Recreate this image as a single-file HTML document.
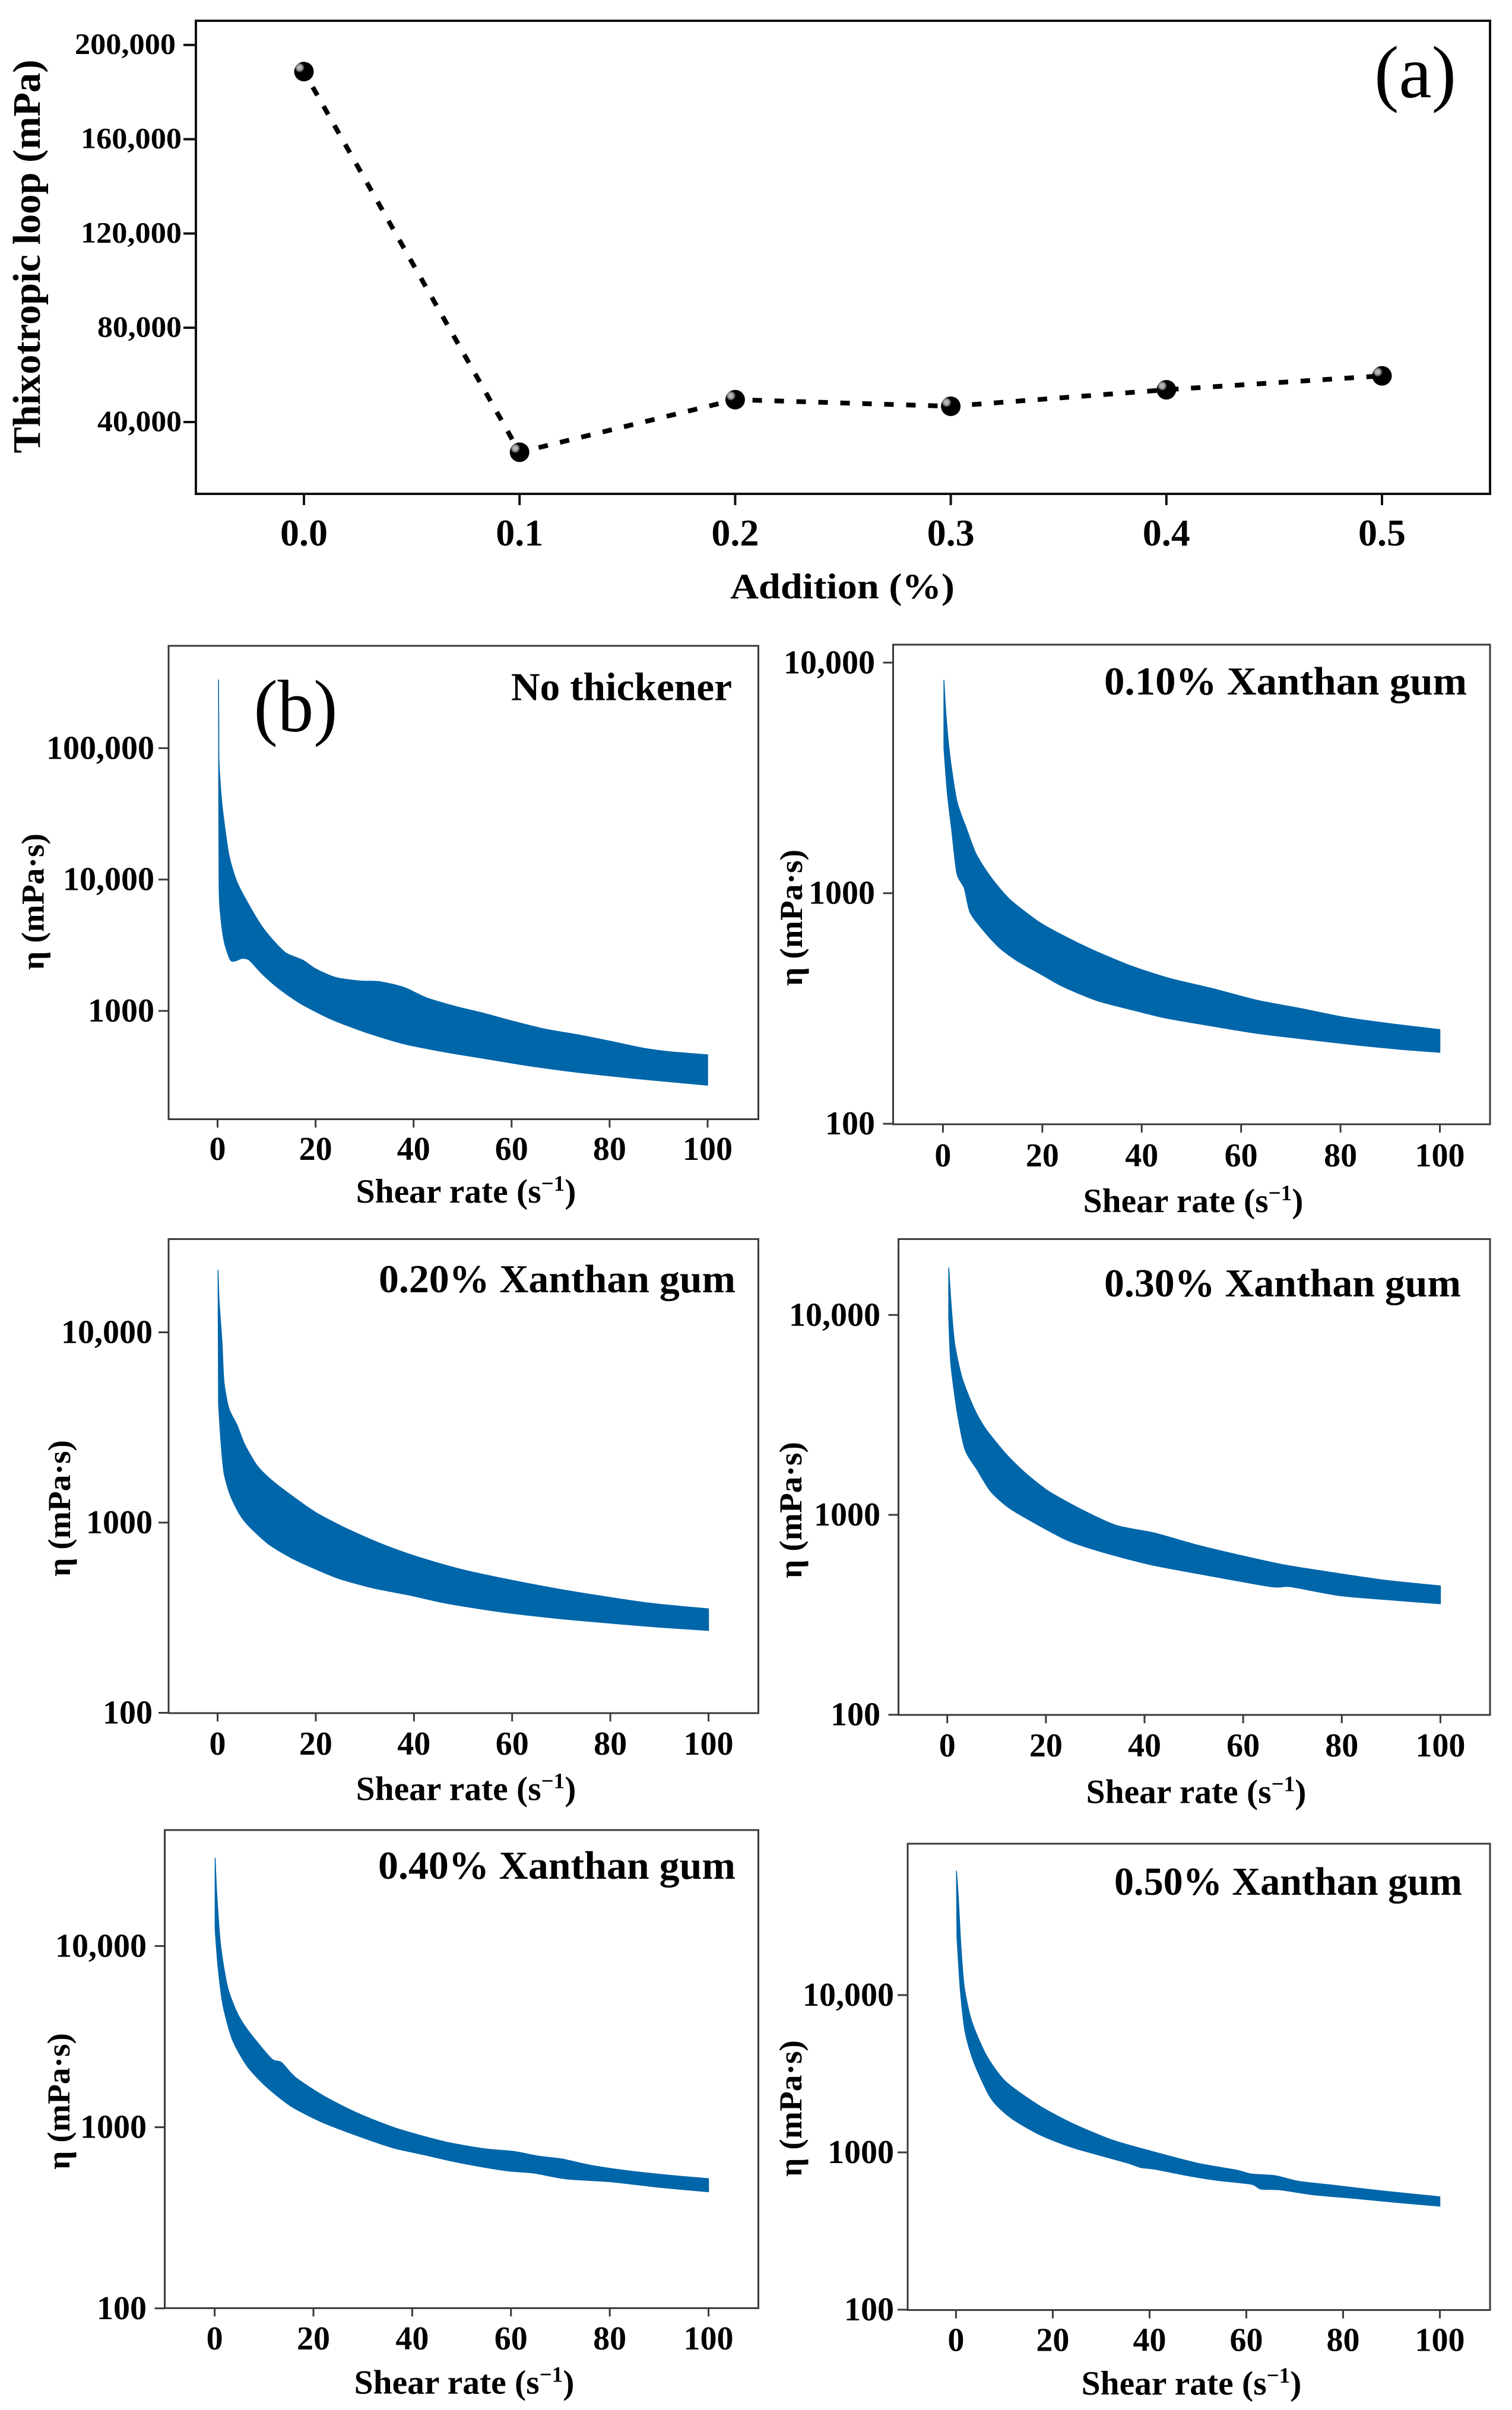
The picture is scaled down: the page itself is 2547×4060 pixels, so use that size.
<!DOCTYPE html>
<html lang="en">
<head>
<meta charset="utf-8">
<title>Thixotropic loop and viscosity curves</title>
<style>
html,body{margin:0;padding:0;background:#fff;}
svg{display:block;}
text{font-family:"Liberation Serif","DejaVu Serif",serif;fill:#000;}
.b{font-weight:bold;}
</style>
</head>
<body>
<svg id="figure" xmlns="http://www.w3.org/2000/svg" width="2547" height="4060" viewBox="0 0 2547 4060">
<defs>
<radialGradient id="ball" cx="0.28" cy="0.3" r="0.75">
<stop offset="0" stop-color="#c8c8c8"/>
<stop offset="0.2" stop-color="#999"/>
<stop offset="0.34" stop-color="#000"/>
<stop offset="1" stop-color="#000"/>
</radialGradient>
</defs>
<rect width="2547" height="4060" fill="#fff"/>
</svg>
<script>
// Panel (a) data
const aCategories = [0.0, 0.1, 0.2, 0.3, 0.4, 0.5];
const aCategoryLabels = ['0.0', '0.1', '0.2', '0.3', '0.4', '0.5'];
const aValues = [188700, 27200, 49500, 46700, 53700, 59600];
const aTicks = [40000, 80000, 120000, 160000, 200000];
const aTickLabels = ['40,000', '80,000', '120,000', '160,000', '200,000'];

// Shear-rate axis shared by panels (b)
const shearTicks = [0, 20, 40, 60, 80, 100];
const shearTickLabels = ['0', '20', '40', '60', '80', '100'];

// No thickener
const noneUpperRates = [0.2, 0.25, 0.3, 0.9, 2.3, 4, 6.5, 9, 11.5, 14, 17.4, 20, 24, 29, 33, 38, 42.6, 48.6, 54.5, 60.4, 67, 74, 80, 87, 92, 100];
const noneUpper = [331000, 135000, 76700, 37200, 15500, 9480, 6310, 4420, 3390, 2750, 2430, 2090, 1800, 1690, 1670, 1510, 1260, 1080, 955, 832, 724, 653, 589, 519, 490, 463];
const noneLowerRates = [0.2, 0.3, 0.7, 1.4, 2.6, 3.6, 5, 6.5, 9, 12.5, 17, 23, 30, 38, 46.6, 54.5, 64, 74, 84, 94, 100];
const noneLower = [300000, 9770, 5010, 3310, 2450, 2400, 2510, 2430, 1930, 1480, 1135, 871, 692, 562, 485, 434, 380, 339, 309, 285, 272];

// 0.10 %
const x10UpperRates = [0.2, 0.6, 1.4, 2.8, 4.8, 6.7, 9.6, 13.5, 19.4, 24.2, 30, 37.8, 45.6, 54.4, 63, 72, 80.6, 90.4, 100];
const x10Upper = [8390, 5990, 3940, 2510, 1890, 1475, 1176, 938, 748, 655, 569, 484, 427, 385, 344, 316, 290, 271, 256];
const x10LowerRates = [0.2, 0.9, 1.8, 2.8, 4.3, 5.5, 8.7, 11.6, 15, 19.4, 24.2, 31, 37.8, 44.6, 53.4, 63, 72, 83.6, 92.4, 100];
const x10Lower = [4250, 2700, 1850, 1220, 1050, 822, 667, 574, 508, 449, 393, 342, 313, 288, 267, 247, 234, 219, 210, 204];

// 0.20 %
const x20UpperRates = [0.1, 0.3, 0.9, 1.3, 2.3, 4, 5.5, 8, 11, 15, 20, 25.8, 32.7, 39.6, 48.5, 58.3, 68.2, 76, 88, 100];
const x20Upper = [21200, 14700, 8890, 5500, 3980, 3240, 2580, 2000, 1670, 1390, 1130, 942, 785, 675, 577, 507, 453, 419, 377, 352];
const x20LowerRates = [0.2, 0.7, 1.3, 2.6, 4.5, 6.5, 10.5, 15, 20, 24.8, 31.7, 39.6, 46.5, 57.4, 69, 80, 90, 100];
const x20Lower = [4180, 2640, 1830, 1390, 1106, 951, 767, 653, 569, 507, 453, 413, 377, 340, 314, 296, 282, 271];

// 0.30 %
const x30UpperRates = [0.3, 0.8, 1.5, 3, 5.4, 7.8, 11.8, 15.7, 20.6, 27.5, 34.3, 42, 51, 59.8, 68.6, 78.4, 89, 100];
const x30Upper = [17200, 11100, 7180, 4850, 3420, 2690, 2030, 1630, 1310, 1054, 885, 811, 703, 624, 560, 513, 470, 441];
const x30LowerRates = [0.3, 0.7, 2, 3.6, 6, 8.8, 12.7, 18.6, 24.5, 31.4, 41, 52, 65.7, 69.6, 79.4, 90, 100];
const x30Lower = [9750, 5770, 3270, 2120, 1690, 1310, 1076, 885, 743, 652, 565, 502, 437, 437, 395, 375, 359];

// 0.40 %
const x40UpperRates = [0.1, 0.4, 1.2, 2.6, 4.6, 7, 11.5, 13.5, 16.4, 22.3, 29.1, 37, 46.8, 54.7, 60.5, 65.5, 70.4, 76.3, 84, 92, 100];
const x40Upper = [30600, 19900, 10100, 5960, 4250, 3350, 2390, 2280, 1880, 1475, 1190, 981, 829, 760, 735, 693, 667, 615, 573, 543, 520];
const x40LowerRates = [0.1, 0.7, 1.7, 3.6, 6.6, 10.5, 15.4, 21.3, 28.2, 36, 42.9, 47.8, 53.7, 59.6, 64.5, 71.3, 80.2, 90, 100];
const x40Lower = [12300, 7590, 4690, 3040, 2170, 1670, 1310, 1080, 912, 771, 700, 652, 607, 573, 559, 518, 500, 466, 440];

// 0.50 %
const x50UpperRates = [0.1, 0.5, 1, 1.7, 3.2, 6.2, 10.2, 17.2, 24.2, 32.2, 40.2, 50.1, 58, 61, 66, 71, 78, 88, 100];
const x50Upper = [61400, 40600, 20800, 11300, 6880, 4180, 2830, 1980, 1520, 1200, 1020, 851, 771, 729, 710, 653, 618, 569, 522];
const x50LowerRates = [0.2, 0.9, 1.9, 3.7, 7.2, 11.2, 17.2, 24.2, 35.2, 38.2, 41, 48, 54, 61, 63, 67, 74, 83, 91, 100];
const x50Lower = [23300, 10700, 5820, 3740, 2210, 1670, 1300, 1070, 861, 801, 783, 710, 664, 628, 585, 578, 537, 508, 481, 455];

const NS = 'http://www.w3.org/2000/svg';
const root = document.getElementById('figure');

function make(parent, tag, props) {
  const node = document.createElementNS(NS, tag);
  for (const key in props) node.setAttribute(key, props[key]);
  parent.appendChild(node);
  return node;
}

function write(parent, str, x, y, size, anchor, bold, fit, rotate) {
  const props = {x: x, y: y, 'font-size': size, 'text-anchor': anchor};
  if (bold) props['font-weight'] = 'bold';
  if (fit) {
    props.textLength = fit;
    props.lengthAdjust = 'spacingAndGlyphs';
  }
  if (rotate) props.transform = 'rotate(-90 ' + x + ' ' + y + ')';
  const node = make(parent, 'text', props);
  node.textContent = str;
  return node;
}

// Smooth curve through the given points (Catmull-Rom as cubic segments)
function smooth(pts) {
  let d = '';
  for (let i = 0; i < pts.length - 1; i++) {
    const p0 = pts[Math.max(i - 1, 0)];
    const p1 = pts[i];
    const p2 = pts[i + 1];
    const p3 = pts[Math.min(i + 2, pts.length - 1)];
    const k = 1 / 8;
    d += ' C' + (p1[0] + (p2[0] - p0[0]) * k) + ' ' + (p1[1] + (p2[1] - p0[1]) * k) + ' ' +
      (p2[0] - (p3[0] - p1[0]) * k) + ' ' + (p2[1] - (p3[1] - p1[1]) * k) + ' ' + p2[0] + ' ' + p2[1];
  }
  return d;
}

function drawPanelA() {
  const left = 330, right = 2510, top = 35, bottom = 832;
  const g = make(root, 'g', {});
  
  
  const sx = function (v) { return 512 + (v - 0) / 0.5 * (2328 - 512); };
  const sy = function (v) { return 711 - (v - 40000) / 160000 * (711 - 75.7); };

  const frame = make(g, 'rect', {x: left, y: top, width: right - left, height: bottom - top, fill: 'none', stroke: '#111', 'stroke-width': 4});
  
  

  aTicks.forEach(function (v, i) {
    const tick = make(g, 'line', {x1: left - 21, x2: left, y1: sy(v), y2: sy(v), stroke: '#111', 'stroke-width': 4});
    
    
    const endX = v === 200000 ? 296 : 306;
    const label = write(g, aTickLabels[i], endX, sy(v) + 15, 50, 'end', true, aTickLabels[i].length === 7 ? 170 : 142);
    
    
  });

  aCategories.forEach(function (v, i) {
    const tick = make(g, 'line', {x1: sx(v), x2: sx(v), y1: bottom, y2: bottom + 19, stroke: '#111', 'stroke-width': 4});
    
    
    const label = write(g, aCategoryLabels[i], sx(v), 919, 64, 'middle', true);
    
    
  });

  const pts = aCategories.map(function (v, i) { return sx(v) + ',' + sy(aValues[i]); }).join(' ');
  const line = make(g, 'polyline', {points: pts, fill: 'none', stroke: '#000', 'stroke-width': 8, 'stroke-dasharray': '16 21', 'stroke-dashoffset': -30});
  
  

  aCategories.forEach(function (v, i) {
    const dot = make(g, 'circle', {cx: sx(v), cy: sy(aValues[i]), r: 16.5, fill: 'url(#ball)'});
    
    
  });

  const yTitle = write(g, 'Thixotropic loop (mPa)', 67, 432, 66, 'middle', true, 663, true);
  
  
  const xTitle = write(g, 'Addition (%)', 1419, 1008, 60, 'middle', true, 378);
  
  
  const tag = write(g, '(a)', 2384, 164, 125, 'middle', false, 138);
  
  
}

function drawViscosity(layout, upperRates, upper, lowerRates, lower, yTicks, yTickLabels) {
  const g = make(root, 'g', {});
  
  
  const sx = function (v) { return layout.x0 + v / 100 * (layout.x100 - layout.x0); };
  const sy = function (v) { return layout.y1000 - (Math.log10(v) - 3) * layout.decade; };

  const upperPts = upperRates.map(function (r, i) { return [sx(r), sy(upper[i])]; });
  const lowerPts = lowerRates.map(function (r, i) { return [sx(r), sy(lower[i])]; }).reverse();
  const outline = 'M' + upperPts[0][0] + ' ' + upperPts[0][1] + smooth(upperPts) +
    ' L' + lowerPts[0][0] + ' ' + lowerPts[0][1] + smooth(lowerPts) + ' Z';
  const band = make(g, 'path', {d: outline, fill: '#0066aa', stroke: '#0066aa', 'stroke-width': 1.5, 'stroke-linejoin': 'round'});
  
  

  const frame = make(g, 'rect', {x: layout.left, y: layout.top, width: layout.right - layout.left, height: layout.bottom - layout.top, fill: 'none', stroke: '#3a3a3a', 'stroke-width': 3});
  
  

  shearTicks.forEach(function (v, i) {
    const tick = make(g, 'line', {x1: sx(v), x2: sx(v), y1: layout.bottom, y2: layout.bottom + 14, stroke: '#3a3a3a', 'stroke-width': 3});
    
    
    const label = write(g, shearTickLabels[i], sx(v), layout.xLabelY, 56, 'middle', true);
    
    
  });

  yTicks.forEach(function (v, i) {
    const tick = make(g, 'line', {x1: layout.left - 17, x2: layout.left, y1: sy(v), y2: sy(v), stroke: '#3a3a3a', 'stroke-width': 3});
    
    
    const label = write(g, yTickLabels[i], layout.yLabelX, sy(v) + 18, 56, 'end', true);
    
    
  });

  const title = write(g, layout.title, layout.titleX, layout.titleY, 67, 'start', true, layout.titleW);
  
  

  const yTitle = write(g, 'η (mPa·s)', layout.yTitleX, layout.yTitleY, 54, 'middle', true, 230, true);
  
  

  const xTitle = write(g, 'Shear rate (s', layout.xTitleX, layout.xTitleY, 57.5, 'middle', true);
  
  
  const sup = make(xTitle, 'tspan', {dy: -20, 'font-size': 37});
  sup.textContent = '−1';
  const close = make(xTitle, 'tspan', {dy: 20});
  close.textContent = ')';
}

drawPanelA();

drawViscosity({left: 284, right: 1277.5, top: 1088, bottom: 1885.5, x0: 366.5, x100: 1192, y1000: 1703, decade: 221.3, xLabelY: 1954, yLabelX: 260, title: 'No thickener', titleX: 861, titleY: 1179.5, titleW: 372, yTitleX: 73.5, yTitleY: 1519, xTitleX: 785, xTitleY: 2026},
  noneUpperRates, noneUpper, noneLowerRates, noneLower, [1000, 10000, 100000], ['1000', '10,000', '100,000']);

drawViscosity({left: 1504.5, right: 2510, top: 1086, bottom: 1894, x0: 1588.4, x100: 2425.5, y1000: 1504.7, decade: 388.4, xLabelY: 1965, yLabelX: 1474, title: '0.10% Xanthan gum', titleX: 1860, titleY: 1170, titleW: 611, yTitleX: 1351, yTitleY: 1546, xTitleX: 2010, xTitleY: 2042},
  x10UpperRates, x10Upper, x10LowerRates, x10Lower, [100, 1000, 10000], ['100', '1000', '10,000']);

drawViscosity({left: 284, right: 1277.5, top: 2087.4, bottom: 2886, x0: 366.5, x100: 1193.5, y1000: 2565, decade: 320.5, xLabelY: 2956, yLabelX: 257, title: '0.20% Xanthan gum', titleX: 638, titleY: 2177, titleW: 601, yTitleX: 118, yTitleY: 2541, xTitleX: 785, xTitleY: 3032.6},
  x20UpperRates, x20Upper, x20LowerRates, x20Lower, [100, 1000, 10000], ['100', '1000', '10,000']);

drawViscosity({left: 1513.5, right: 2510, top: 2087.4, bottom: 2889, x0: 1595.7, x100: 2426.4, y1000: 2552, decade: 336.7, xLabelY: 2959, yLabelX: 1483, title: '0.30% Xanthan gum', titleX: 1860, titleY: 2184, titleW: 601, yTitleX: 1350, yTitleY: 2544, xTitleX: 2015, xTitleY: 3037.6},
  x30UpperRates, x30Upper, x30LowerRates, x30Lower, [100, 1000, 10000], ['100', '1000', '10,000']);

drawViscosity({left: 277.5, right: 1277.5, top: 3083, bottom: 3888.4, x0: 361.6, x100: 1193.5, y1000: 3583.6, decade: 305.2, xLabelY: 3958, yLabelX: 247, title: '0.40% Xanthan gum', titleX: 637, titleY: 3165, titleW: 602, yTitleX: 117, yTitleY: 3540, xTitleX: 782, xTitleY: 4032.6},
  x40UpperRates, x40Upper, x40LowerRates, x40Lower, [100, 1000, 10000], ['100', '1000', '10,000']);

drawViscosity({left: 1529, right: 2510, top: 3106, bottom: 3891.6, x0: 1610.4, x100: 2425.5, y1000: 3626, decade: 265, xLabelY: 3960.5, yLabelX: 1506, title: '0.50% Xanthan gum', titleX: 1877, titleY: 3192, titleW: 586, yTitleX: 1350, yTitleY: 3552, xTitleX: 2007, xTitleY: 4034},
  x50UpperRates, x50Upper, x50LowerRates, x50Lower, [100, 1000, 10000], ['100', '1000', '10,000']);

const tagB = write(root, '(b)', 498, 1232, 125, 'middle', false, 141);


</script>
</body>
</html>
